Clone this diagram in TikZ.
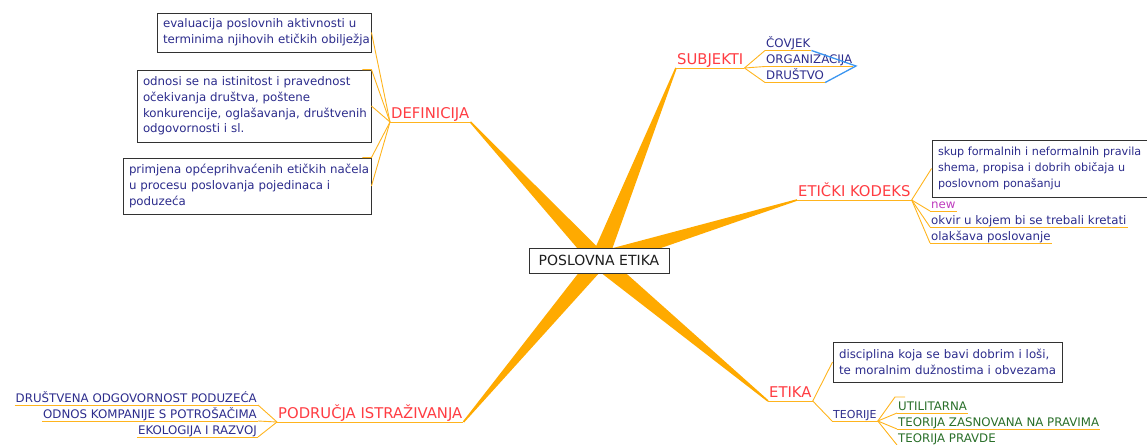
\documentclass[tikz,border=0pt]{standalone}
\usepackage{fontspec}
\setmainfont{DejaVu Sans}
\usetikzlibrary{calc}
\pgfdeclarelayer{background}
\pgfsetlayers{background,main}
\definecolor{navy}{RGB}{44,44,140}
\definecolor{topicred}{RGB}{255,60,66}
\definecolor{leafgreen}{RGB}{40,110,40}
\definecolor{newmag}{RGB}{190,60,190}
\definecolor{spokeor}{RGB}{255,170,0}
\definecolor{edgeor}{RGB}{255,180,30}
\definecolor{boxgray}{RGB}{50,50,50}
\definecolor{linkblue}{RGB}{60,150,240}
\definecolor{roottext}{RGB}{30,30,30}
\tikzset{
  topic/.style={font=\fontsize{14.8}{17}\selectfont, text=topicred, inner xsep=1pt, inner ysep=3.5pt, text depth=0pt},
  leaf/.style={font=\fontsize{11.8}{14}\selectfont, text=navy, inner xsep=1pt, inner ysep=2.7pt, text depth=0pt},
  theory/.style={leaf, text=leafgreen},
  textbox/.style={draw=boxgray, line width=0.9pt, fill=white, font=\fontsize{11.8}{15.7}\selectfont, text=navy, align=left, inner xsep=6pt, inner ysep=0pt},
  edge/.style={draw=edgeor, line width=0.9pt},
  link/.style={draw=linkblue, line width=1.3pt},
  rootbox/.style={draw=boxgray, line width=0.9pt, fill=white, minimum width=140pt, minimum height=25pt, inner sep=0pt, font=\fontsize{14}{16}\selectfont, text=roottext}
}
\newcommand\mmspoke[2]{\fill[spokeor] ($(#1)!8.5pt!90:(#2)$) -- ($(#2)!0.8pt!-90:(#1)$) -- ($(#2)!0.8pt!90:(#1)$) -- ($(#1)!8.5pt!-90:(#2)$) -- cycle;}
\begin{document}
\begin{tikzpicture}[x=1pt,y=-1pt]
\useasboundingbox (0,0) rectangle (1147,444);
% root
\node[rootbox] (root) at (599,260.5) {POSLOVNA ETIKA};
% main topics
\node[topic, anchor=south west] (subj) at (676,68) {SUBJEKTI};
\node[topic, anchor=south west] (def) at (390,122) {DEFINICIJA};
\node[topic, anchor=south west] (kod) at (797,200) {ETIČKI KODEKS};
\node[topic, anchor=south west] (etika) at (768,401) {ETIKA};
\node[topic, anchor=south west] (podr) at (277,422) {PODRUČJA ISTRAŽIVANJA};
% subjekti
\node[leaf, anchor=south west] (cov) at (765,50.5) {ČOVJEK};
\node[leaf, anchor=south west] (org) at (765,66.5) {ORGANIZACIJA};
\node[leaf, anchor=south west] (dru) at (765,82.5) {DRUŠTVO};
\coordinate (bl) at (856,66);
% definicija boxes
\node[textbox, text width=202pt, minimum height=39pt] (d1) at (264,32.5)
  {\mbox{evaluacija poslovnih aktivnosti u}\\\mbox{terminima njihovih etičkih obilježja}};
\node[textbox, text width=222pt, minimum height=72pt] (d2) at (254,106)
  {\mbox{odnosi se na istinitost i pravednost}\\\mbox{očekivanja društva, poštene}\\\mbox{konkurencije, oglašavanja, društvenih}\\\mbox{odgovornosti i sl.}};
\node[textbox, text width=236pt, minimum height=56pt] (d3) at (247,186)
  {\mbox{primjena općeprihvaćenih etičkih načela}\\\mbox{u procesu poslovanja pojedinaca i}\\\mbox{poduzeća}};
% eticki kodeks
\node[textbox, font=\fontsize{11.2}{15.7}\selectfont, text width=220pt, minimum height=57pt] (kbox) at (1048,168.5)
  {\mbox{skup formalnih i neformalnih pravila}\\\mbox{shema, propisa i dobrih običaja u}\\\mbox{poslovnom ponašanju}};
\node[leaf, text=newmag, anchor=south west] (knew) at (930,211) {new};
\node[leaf, anchor=south west] (okvir) at (930,227) {okvir u kojem bi se trebali kretati};
\node[leaf, anchor=south west] (olak) at (930,243) {olakšava poslovanje};
% etika
\node[textbox, text width=217pt, minimum height=40pt] (ebox) at (947.5,362)
  {\mbox{disciplina koja se bavi dobrim i loši,}\\\mbox{te moralnim dužnostima i obvezama}};
\node[leaf, font=\fontsize{11}{13}\selectfont, anchor=south west] (teor) at (832,421) {TEORIJE};
\node[theory, anchor=south west] (util) at (897,413) {UTILITARNA};
\node[theory, anchor=south west] (tzp) at (897,429) {TEORIJA ZASNOVANA NA PRAVIMA};
\node[theory, anchor=south west] (tp) at (897,445) {TEORIJA PRAVDE};
\coordinate (ustub1) at (895,397);
\coordinate (ustub2) at (905,397);
% podrucja
\node[leaf, anchor=south east] (p1) at (258,405) {DRUŠTVENA ODGOVORNOST PODUZEĆA};
\node[leaf, anchor=south east] (p2) at (258,421) {ODNOS KOMPANIJE S POTROŠAČIMA};
\node[leaf, anchor=south east] (p3) at (258,437) {EKOLOGIJA I RAZVOJ};
% spokes
\begin{pgfonlayer}{background}
\mmspoke{root.center}{subj.south west}
\mmspoke{root.center}{def.south east}
\mmspoke{root.center}{kod.south west}
\mmspoke{root.center}{etika.south west}
\mmspoke{root.center}{podr.south east}
\end{pgfonlayer}
% underlines
\foreach \n in {subj,def,kod,etika,podr,cov,org,dru,knew,okvir,olak,teor,util,tzp,tp,p1,p2,p3}
  \draw[edge] (\n.south west) -- (\n.south east);
% thin edges
\draw[edge] (subj.south east) -- (cov.south west);
\draw[edge] (subj.south east) -- (org.south west);
\draw[edge] (subj.south east) -- (dru.south west);
\draw[link] (cov.south east) -- (bl) -- (dru.south east);
\draw[edge] (def.south west) -- (d1.east);
\draw[edge] ([xshift=-9pt]d2.north east) -- (d2.north east) -- (def.south west);
\draw[edge] (def.south west) -- (d2.east);
\draw[edge] ([xshift=-9pt]d3.north east) -- (d3.north east) -- (def.south west);
\draw[edge] (def.south west) -- (d3.east);
\draw[edge] (kod.south east) -- (kbox.west);
\draw[edge] (kod.south east) -- (knew.south west);
\draw[edge] (kod.south east) -- (okvir.south west);
\draw[edge] (kod.south east) -- (olak.south west);
\draw[edge] (etika.south east) -- (ebox.west);
\draw[edge] (etika.south east) -- (teor.south west);
\draw[edge] (ustub2) -- (ustub1) -- (teor.south east);
\draw[edge] (teor.south east) -- (util.south west);
\draw[edge] (teor.south east) -- (tzp.south west);
\draw[edge] (teor.south east) -- (tp.south west);
\draw[edge] (podr.south west) -- (p1.south east);
\draw[edge] (podr.south west) -- (p2.south east);
\draw[edge] (podr.south west) -- (p3.south east);
\end{tikzpicture}
\end{document}
